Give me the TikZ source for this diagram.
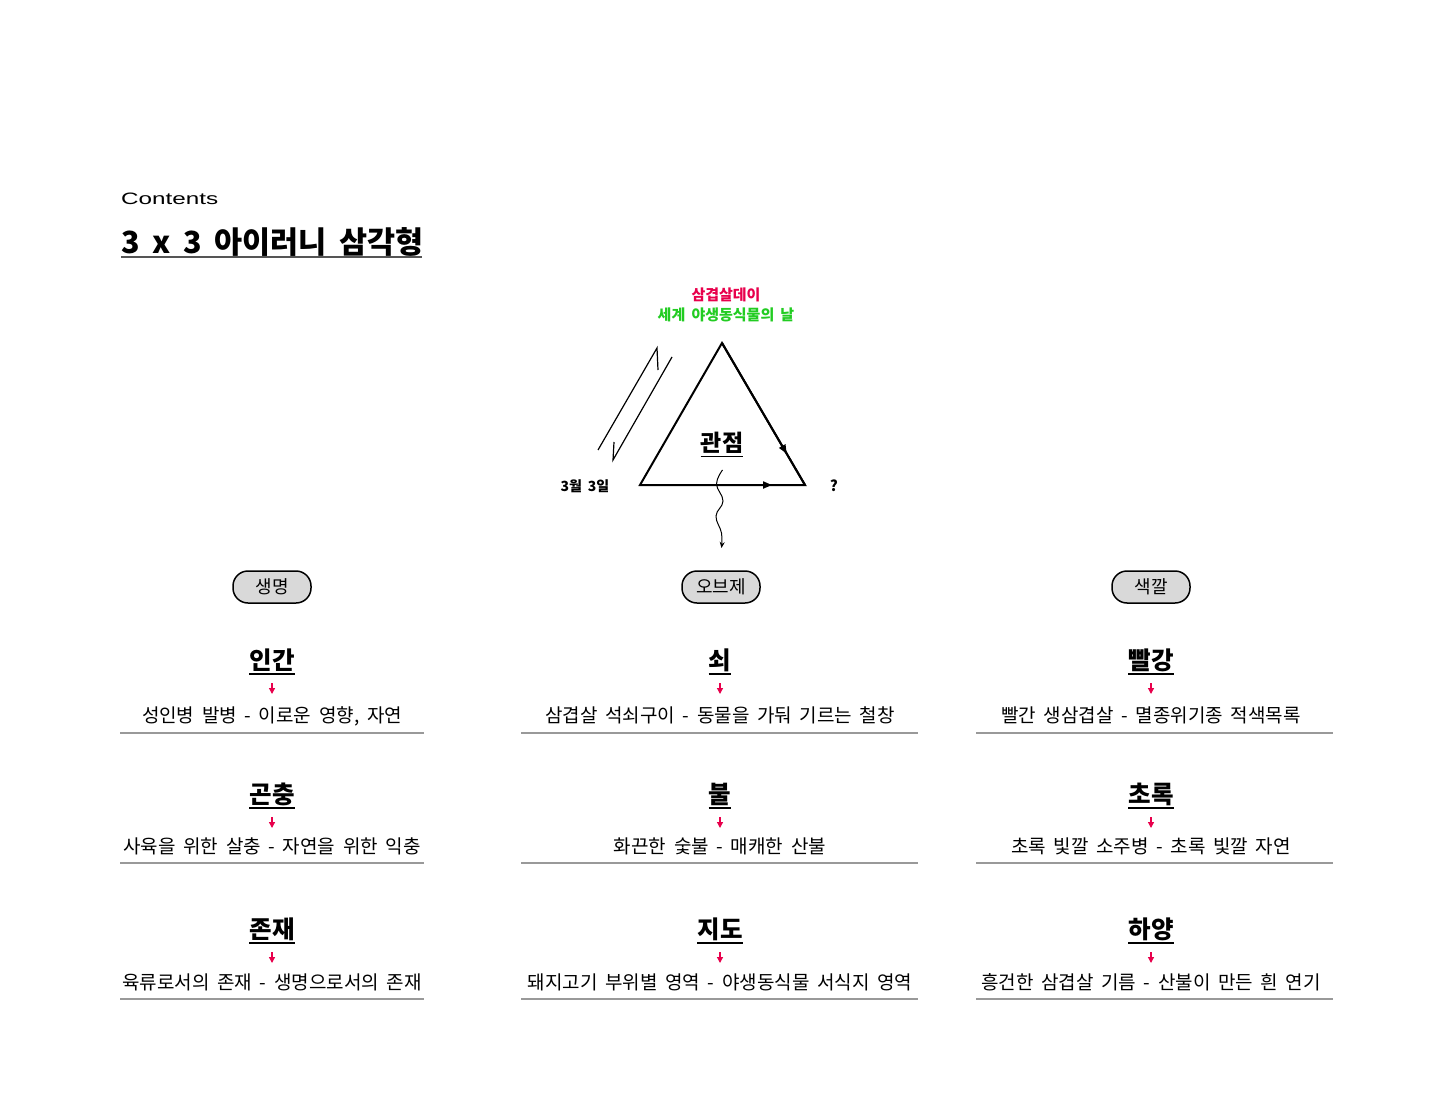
\documentclass[tikz,border=0pt]{standalone}
\usepackage{fontspec}
\setmainfont{Noto Sans CJK KR}[WordSpace=1.8]
\newfontfamily\latinfont{Liberation Sans}
\usetikzlibrary{arrows.meta,decorations.markings}
\definecolor{kred}{HTML}{E8004C}
\definecolor{kgreen}{HTML}{22CC22}
\definecolor{pillgray}{HTML}{D9D9D9}
\definecolor{linegray}{HTML}{999999}
\definecolor{titlegray}{HTML}{555555}
\newcommand\kcell[9]{%
  \node[head] (#1h) at (#2,#3) {#8};
  \draw[uline] ([yshift=-5pt]#1h.base west) -- ([yshift=-5pt]#1h.base east);
  \coordinate (#1a) at (#2,#3+14);
  \coordinate (#1b) at (#2,#3+25);
  \draw[redarrow] (#1a) -- (#1b);
  \node[sub] (#1t) at (#2,#4) {#9};
  \coordinate (#1l) at (#6,#5);
  \coordinate (#1r) at (#7,#5);
  \draw[sepline] (#1l) -- (#1r);
}
\begin{document}
\begin{tikzpicture}[x=1pt,y=-1pt,
  head/.style={font=\fontsize{24.5}{24.5}\selectfont\bfseries, inner sep=0pt, anchor=base},
  sub/.style={font=\fontsize{19}{19}\selectfont, inner sep=0pt, anchor=base},
  pill/.style={draw=black, line width=1.5pt, fill=pillgray, rounded corners=15pt, minimum width=78pt, minimum height=32pt, font=\fontsize{18}{18}\selectfont, inner sep=0pt},
  redarrow/.style={draw=kred, line width=1.3pt, -{Triangle[length=6pt,width=6pt]}},
  sepline/.style={draw=linegray, line width=2pt},
  uline/.style={draw=black, line width=1.5pt},
  smallbold/.style={font=\fontsize{15}{15}\selectfont\bfseries, inner sep=0pt, anchor=base},
  triedge/.style={line width=2pt},
  midarrow/.style={postaction={decorate}, decoration={markings, mark=at position #1 with {\arrow{Triangle[length=9pt,width=7pt]}}}}
]
\useasboundingbox[fill=white] (0,0) rectangle (1440,1102);

% header
\node[anchor=base west, inner sep=0pt] (ct) at (121,205) {\latinfont\fontsize{16.5}{16.5}\selectfont\scalebox{1.47}[1]{Contents}};
\node[anchor=base west, inner sep=0pt, font=\fontsize{30.5}{30.5}\selectfont\bfseries] (tt) at (121,254) {3 x 3 아이러니 삼각형};
\coordinate (tul) at (121,257);
\coordinate (tur) at (422,257);
\draw[draw=titlegray, line width=2pt] (tul) -- (tur);

% top labels
\node[smallbold, text=kred] (sd) at (726,300.5) {삼겹살데이};
\node[smallbold, text=kgreen] (wd) at (726,320.5) {세계 야생동식물의 날};

% triangle
\coordinate (tA) at (722,343);
\coordinate (tB) at (805,485);
\coordinate (tC) at (640,485);
\draw[triedge, line join=miter] (tA) -- (tB) -- (tC) -- cycle;
\draw[triedge, midarrow=0.78] (tA) -- (tB);
\draw[triedge, midarrow=0.8] (tC) -- (tB);

\node[font=\fontsize{23}{23}\selectfont\bfseries, inner sep=0pt, anchor=base] (gj) at (722,451.5) {관점};
\draw[uline] ([yshift=-5pt]gj.base west) -- ([yshift=-5pt]gj.base east);

\node[font=\fontsize{14}{14}\selectfont\bfseries, inner sep=0pt, anchor=base] (d33) at (585,491) {3월 3일};
\node[font=\fontsize{15}{15}\selectfont\bfseries, inner sep=0pt, anchor=base] (q) at (834,491) {?};

% lightning break mark
\coordinate (z1) at (598,450);
\coordinate (z2) at (657,348);
\coordinate (z3) at (658,370);
\coordinate (z4) at (672,357);
\coordinate (z5) at (613,460);
\coordinate (z6) at (614,442);
\draw[line width=1.2pt] (z1) -- (z2) -- (z3);
\draw[line width=1.2pt] (z4) -- (z5) -- (z6);

% wavy arrow
\coordinate (ws) at (722.5,470);
\coordinate (w2) at (716.5,484);
\coordinate (w3) at (723,501);
\coordinate (w4) at (716,516);
\coordinate (w5) at (721.5,533);
\coordinate (we) at (721.5,548);
\draw[line width=1pt, -{Stealth[length=6pt,width=5pt]}] plot[smooth, tension=0.7] coordinates {(ws) (w2) (w3) (w4) (w5) (we)};

% pills
\node[pill] (p1) at (272,587) {생명};
\node[pill] (p2) at (721,587) {오브제};
\node[pill] (p3) at (1151,587) {색깔};

% cells
\kcell{a1}{272}{669}{722}{733}{120}{424}{인간}{성인병 발병 - 이로운 영향, 자연}
\kcell{a2}{272}{803}{853}{863}{120}{424}{곤충}{사육을 위한 살충 - 자연을 위한 익충}
\kcell{a3}{272}{938}{989}{999}{120}{424}{존재}{육류로서의 존재 - 생명으로서의 존재}
\kcell{b1}{720}{669}{722}{733}{521}{918}{쇠}{삼겹살 석쇠구이 - 동물을 가둬 기르는 철창}
\kcell{b2}{720}{803}{853}{863}{521}{918}{불}{화끈한 숯불 - 매캐한 산불}
\kcell{b3}{720}{938}{989}{999}{521}{918}{지도}{돼지고기 부위별 영역 - 야생동식물 서식지 영역}
\kcell{c1}{1151}{669}{722}{733}{976}{1333}{빨강}{빨간 생삼겹살 - 멸종위기종 적색목록}
\kcell{c2}{1151}{803}{853}{863}{976}{1333}{초록}{초록 빛깔 소주병 - 초록 빛깔 자연}
\kcell{c3}{1151}{938}{989}{999}{976}{1333}{하양}{흥건한 삼겹살 기름 - 산불이 만든 흰 연기}
\end{tikzpicture}
\end{document}
